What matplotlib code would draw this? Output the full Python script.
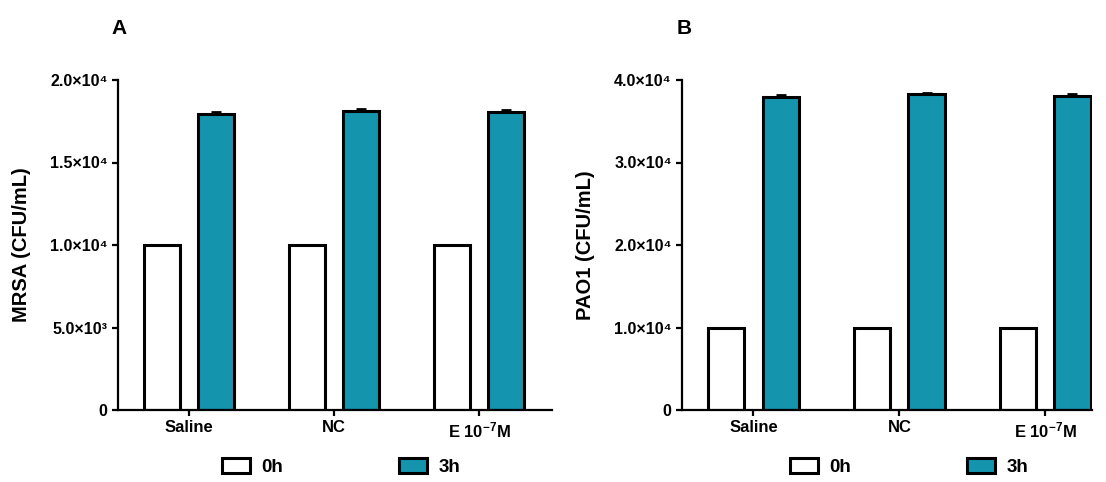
import matplotlib.pyplot as plt
import numpy as np
from matplotlib.ticker import FuncFormatter
from matplotlib.patches import Patch

plt.rcParams['font.family'] = ['Liberation Sans', 'DejaVu Sans']
plt.rcParams['font.weight'] = 'bold'
plt.rcParams['mathtext.fontset'] = 'custom'
plt.rcParams['mathtext.rm'] = 'Liberation Sans:bold'
plt.rcParams['mathtext.it'] = 'Liberation Sans:bold'
plt.rcParams['mathtext.bf'] = 'Liberation Sans:bold'

# data
groups = ['Saline', 'NC', 'E 10$^{-7}$M']
mrsa_0h = [10000, 10000, 10000]
mrsa_3h = [17950, 18130, 18050]
mrsa_3h_err = [120, 130, 110]
pao1_0h = [10000, 10000, 10000]
pao1_3h = [37900, 38250, 38100]
pao1_3h_err = [250, 220, 230]

teal = '#1494ad'
lw_bar = 2.2


def sci_fmt(v, _):
    if v == 0:
        return '0'
    exp = int(np.floor(np.log10(v)))
    mant = v / 10 ** exp
    sup = {3: '³', 4: '⁴'}[exp]
    return f'{mant:.1f}×10{sup}'


def draw_panel(ax, v0, v3, err, ymax, yticks, ylabel, letter, xmax):
    x = np.arange(len(groups))
    w = 0.248
    off = 0.186
    ax.bar(x - off, v0, w, color='white', edgecolor='black', linewidth=lw_bar, zorder=2)
    ax.bar(x + off, v3, w, color=teal, edgecolor='black', linewidth=lw_bar, zorder=2)
    ax.errorbar(x + off, v3, yerr=[np.zeros(len(err)), err], fmt='none',
                ecolor='black', elinewidth=2, capsize=3.4, capthick=2, zorder=1)
    ax.set_xlim(-0.49, xmax)
    ax.set_ylim(0, ymax)
    ax.set_yticks(yticks)
    ax.yaxis.set_major_formatter(FuncFormatter(sci_fmt))
    ax.set_xticks(x)
    ax.set_xticklabels(groups, fontsize=12, fontweight='bold')
    for lab in ax.get_yticklabels():
        lab.set_fontsize(11.5)
        lab.set_fontweight('bold')
    ax.set_ylabel(ylabel, fontsize=14.5, fontweight='bold', labelpad=14)
    ax.spines['top'].set_visible(False)
    ax.spines['right'].set_visible(False)
    ax.spines['left'].set_linewidth(1.6)
    ax.spines['bottom'].set_linewidth(1.6)
    ax.spines['left'].set_bounds(0, ymax)
    ax.tick_params(axis='both', width=1.6, length=4.5, direction='out', pad=3)
    ax.text(-0.014, 1.155, letter, transform=ax.transAxes, fontsize=15,
            fontweight='bold', ha='left', va='center')


fig = plt.figure(figsize=(11.06, 4.82), dpi=100)
axA = fig.add_axes([118 / 1106, 72 / 482, 434 / 1106, 330 / 482])
axB = fig.add_axes([682 / 1106, 72 / 482, 410 / 1106, 330 / 482])

draw_panel(axA, mrsa_0h, mrsa_3h, mrsa_3h_err, 20000,
           [0, 5000, 10000, 15000, 20000], 'MRSA (CFU/mL)', 'A', 2.5)
draw_panel(axB, pao1_0h, pao1_3h, pao1_3h_err, 40000,
           [0, 10000, 20000, 30000, 40000], 'PAO1 (CFU/mL)', 'B', 2.32)

handles = [Patch(facecolor='white', edgecolor='black', linewidth=lw_bar, label='0h'),
           Patch(facecolor=teal, edgecolor='black', linewidth=lw_bar, label='3h')]
for cx in (341, 909):
    fig.legend(handles=handles, loc='center', bbox_to_anchor=(cx / 1106, 15 / 482),
               ncol=2, frameon=False, prop={'weight': 'bold', 'size': 13.5},
               handlelength=1.5, handleheight=0.9, handletextpad=0.6, columnspacing=6.2)

fig.savefig('out.png', dpi=100)
